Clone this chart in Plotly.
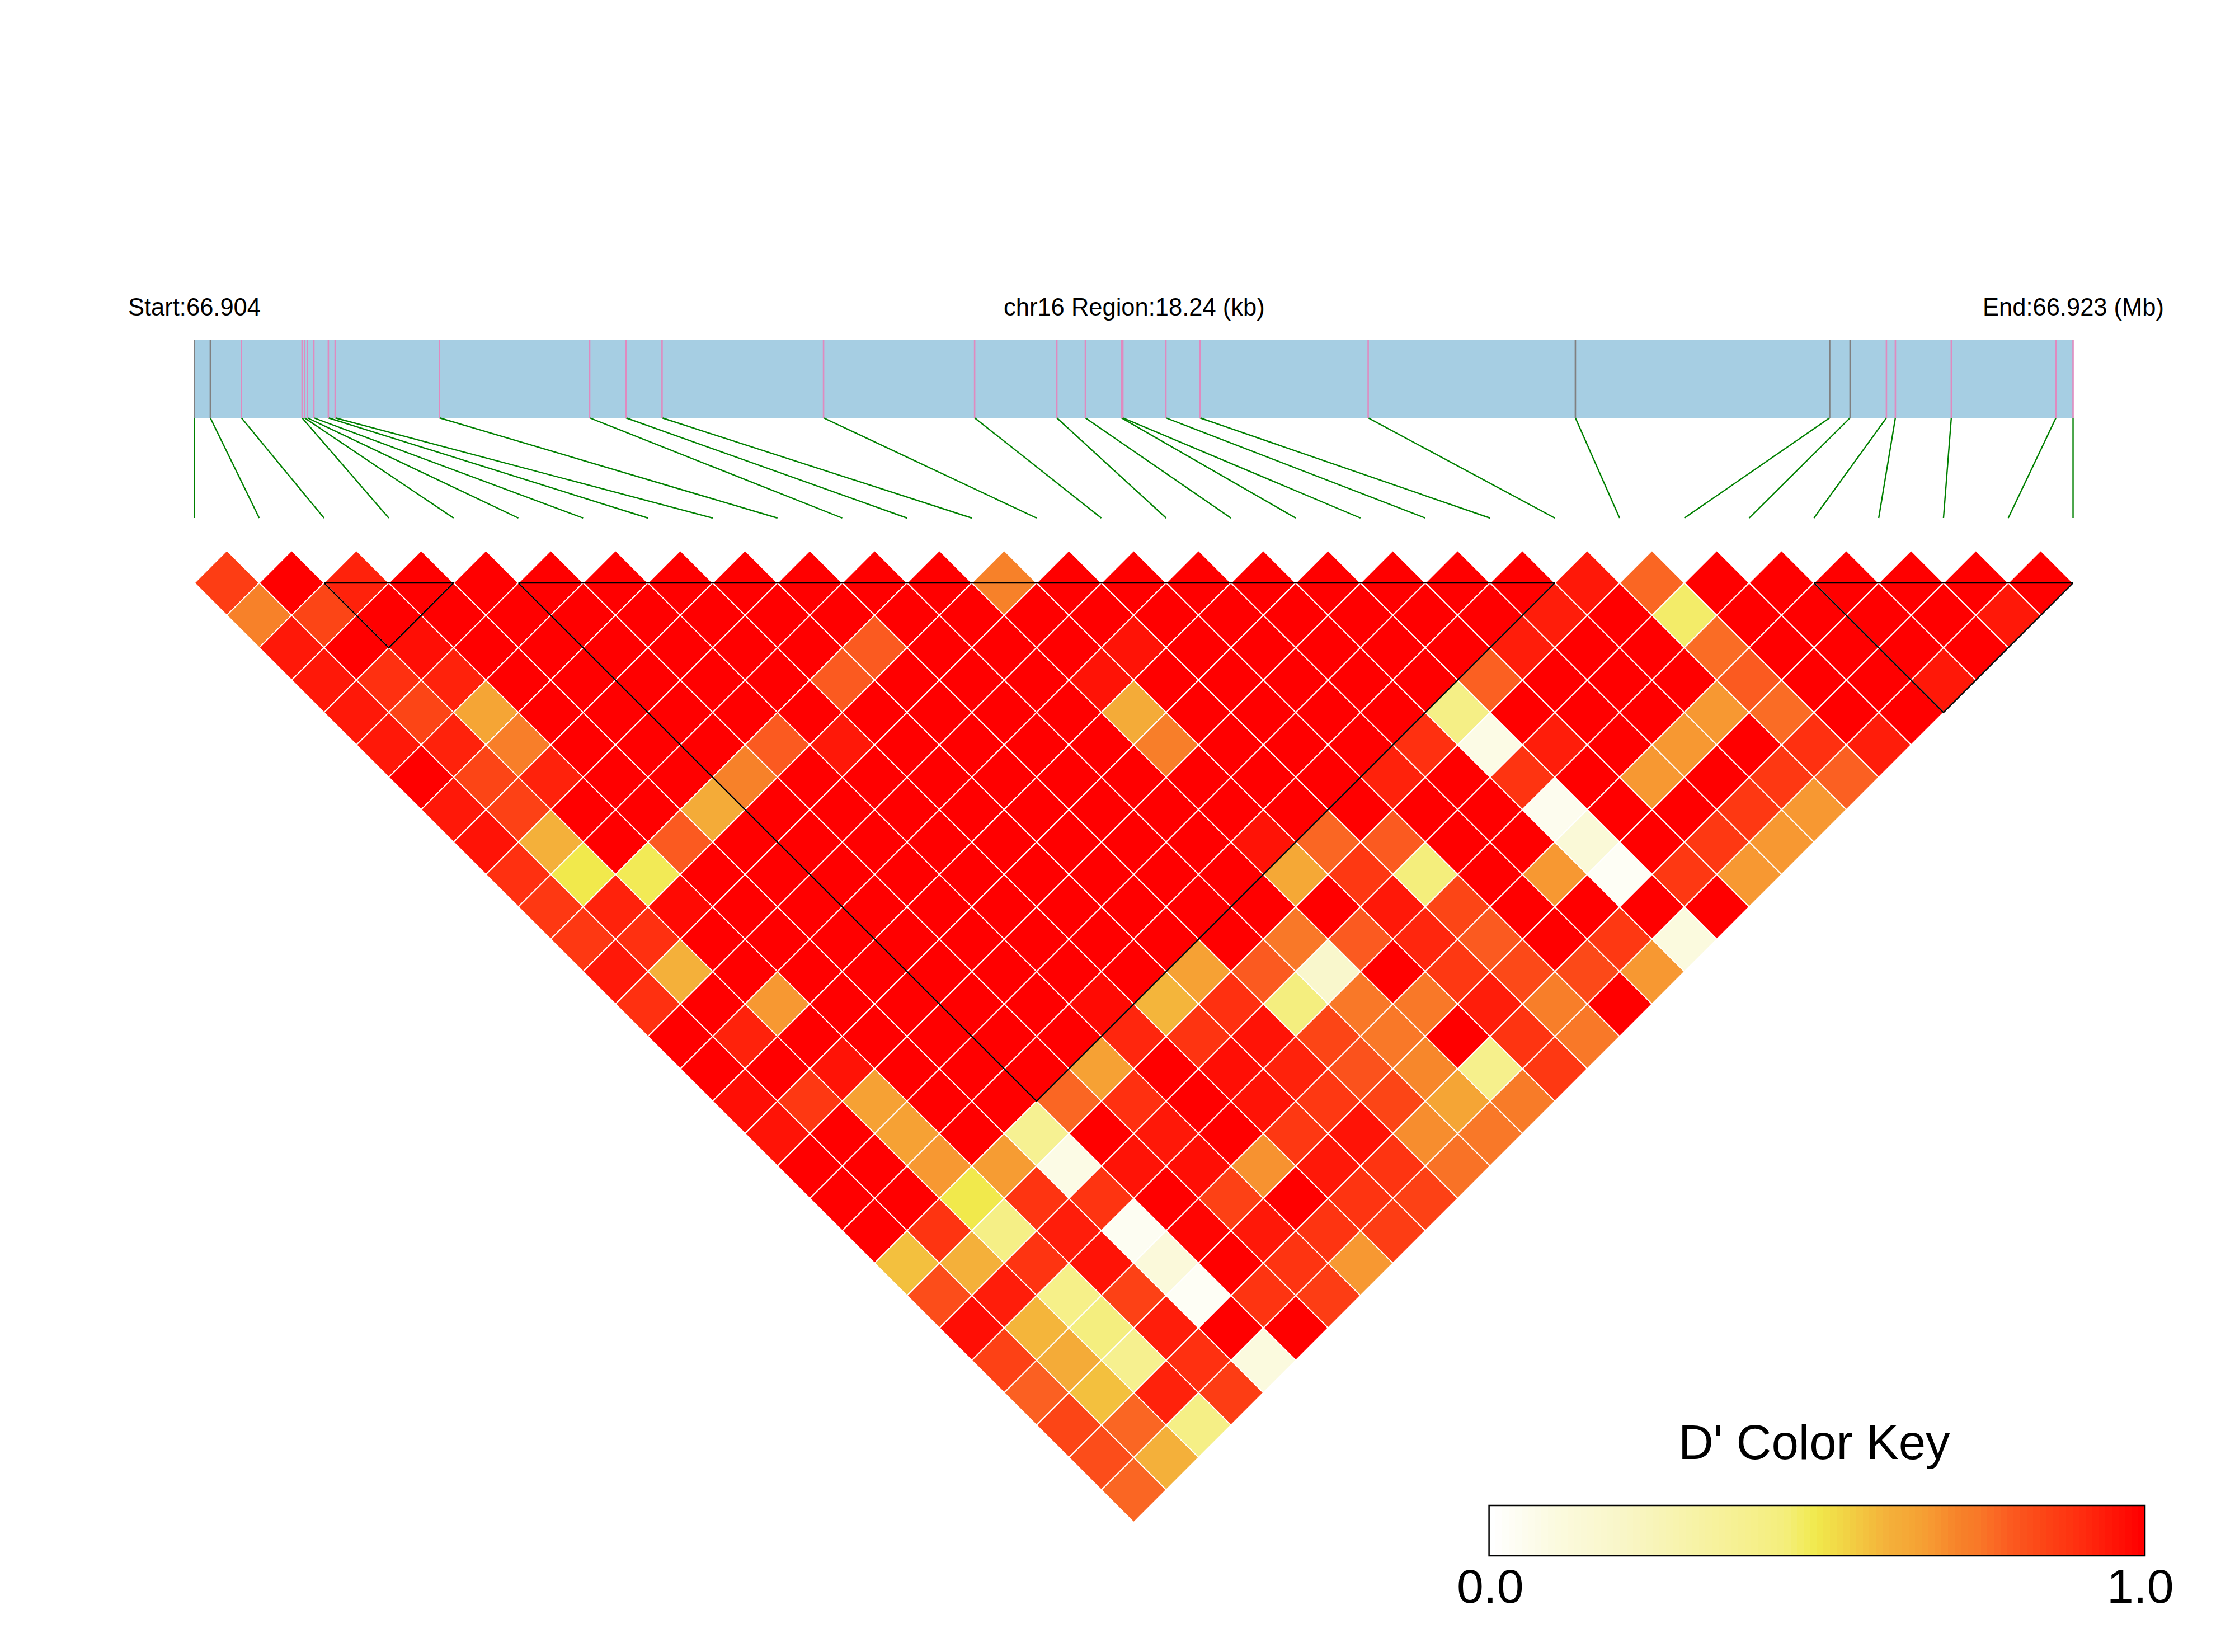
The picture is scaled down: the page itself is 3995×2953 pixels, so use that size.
import plotly.graph_objs as go
from plotly.colors import sample_colorscale

# SNP positions along the region, kb from the start
snp_pos_kb = [0, 0.154, 0.456, 1.045, 1.069, 1.097, 1.159, 1.300, 1.366, 2.379,
              3.837, 4.190, 4.540, 6.108, 7.575, 8.373, 8.650, 9.000, 9.014, 9.432,
              9.763, 11.396, 13.408, 15.877, 16.075, 16.428, 16.515, 17.058, 18.074, 18.24]
grey_snps = [0, 1, 22, 23, 24]
region_kb = 18.24

# D' by distance between SNPs: row_k[i] is the pair (i, i+k)
row_01 = [.87,1,.93,1,1,1,1,1,1,1,1,1,.72,1,1,1,1,1,1,1,1,.95,.78,1,1,1,1,1,1]
row_02 = [.72,.85,1,1,1,1,1,1,1,1,1,1,1,1,1,1,1,1,1,1,.94,1,.47,1,1,1,1,.95]
row_03 = [.95,1,.97,1,1,1,1,1,1,.8,1,1,1,.96,1,1,1,1,1,.94,1,1,.77,1,1,1,1]
row_04 = [.95,.9,.93,1,1,1,1,1,.8,1,1,1,.96,1,1,1,1,1,.79,1,1,1,.8,1,1,.95]
row_05 = [.95,.85,.65,1,1,1,1,1,1,1,1,1,.63,1,1,1,1,.42,1,1,1,.68,.77,1,1]
row_06 = [.95,.93,.73,1,1,1,.8,.95,1,1,1,1,.73,1,1,1,.9,.08,.94,1,.68,1,.9,.94]
row_07 = [1,.85,.93,1,1,.72,1,1,1,1,1,1,1,1,1,.93,1,.89,1,.68,1,.88,.79]
row_08 = [.95,.86,1,1,.63,1,1,1,1,1,1,1,1,1,1,1,1,.05,1,1,.88,.68]
row_09 = [.96,.61,1,.8,1,1,1,1,1,1,1,1,.96,.78,.8,1,1,.13,1,.88,.68]
row_10 = [.9,.5,.49,1,1,1,1,1,1,1,1,1,.64,.88,.45,1,.68,.03,.88,.68]
row_11 = [.88,.93,.98,1,1,1,1,1,1,1,1,1,1,.95,.85,1,1,1,1]
row_12 = [.88,.9,1,1,1,1,1,1,1,1,1,.75,.8,.92,.8,1,.88,.1]
row_13 = [.95,.61,1,1,1,1,1,1,1,.66,.8,.18,1,.88,.84,.84,.68]
row_14 = [.9,1,.68,1,1,1,1,.98,.6,.9,.44,.75,.75,.94,.73,1]
row_15 = [1,.93,1,1,1,1,1,.92,.89,.96,.85,.75,1,.89,.75]
row_16 = [1,1,.96,1,1,1,.66,1,.97,.93,.82,.71,.4,.88]
row_17 = [.97,.88,.66,1,1,.78,.9,1,.96,.88,.85,.65,.74]
row_18 = [.96,1,.66,1,.38,1,.95,1,.88,.96,.7,.75]
row_19 = [1,1,.68,.67,.08,.96,.97,.69,.95,.89,.76]
row_20 = [1,1,.5,.89,.89,1,.86,1,.89,.86]
row_21 = [1,.89,.42,.94,.04,.99,.95,.89,.87]
row_22 = [.58,.61,.89,.96,.12,1,.89,.68]
row_23 = [.83,.94,.41,.86,.03,.89,.87]
row_24 = [.97,.6,.44,.94,1,1]
row_25 = [.86,.63,.39,.9,.1]
row_26 = [.79,.58,.93,.87]
row_27 = [.85,.78,.42]
row_28 = [.83,.61]
row_29 = [.78]
d_rows = [row_01, row_02, row_03, row_04, row_05, row_06, row_07, row_08, row_09, row_10,
          row_11, row_12, row_13, row_14, row_15, row_16, row_17, row_18, row_19, row_20,
          row_21, row_22, row_23, row_24, row_25, row_26, row_27, row_28, row_29]

# LD blocks, first and last SNP
ld_blocks = [(2, 4), (5, 21), (25, 29)]

ld_colors = [[0, '#FFFFFF'], [.1, '#FBFADE'], [.2, '#F9F6C8'], [.4, '#F6F08C'], [.45, '#F4EE7C'],
             [.5, '#F1E94C'], [.58, '#F3C03E'], [.61, '#F4B03A'], [.65, '#F5A535'], [.68, '#F79832'],
             [.72, '#F78129'], [.75, '#F97828'], [.8, '#FB5A20'], [.85, '#FC4516'], [.9, '#FF3010'],
             [.95, '#FF1808'], [1, '#FF0000']]

WIDTH = 3995
HEIGHT = 2953
X0_PX = 347.6      # first SNP
STEP_PX = 115.79   # one SNP along the x axis
Y0_PX = 1042       # centre of the first row of diamonds
ROW_PX = 57.9


def px_x(p):
    return (p - X0_PX) / STEP_PX


def px_y(p):
    return 1 + (p - Y0_PX) / ROW_PX


fig = go.Figure()

# diamonds
for k, row in enumerate(d_rows, start=1):
    for i, value in enumerate(row):
        cx = i + k / 2
        color = sample_colorscale(ld_colors, [value])[0]
        fig.add_trace(go.Scatter(x=[cx - .5, cx, cx + .5, cx, cx - .5],
                                 y=[k, k - 1, k, k + 1, k],
                                 mode='lines', fill='toself', fillcolor=color,
                                 line=dict(color='white', width=2),
                                 hoverinfo='text', text='D\' %.2f' % value, showlegend=False))

# block outlines
for a, b in ld_blocks:
    fig.add_trace(go.Scatter(x=[a, b, (a + b) / 2, a], y=[1, 1, b - a + 1, 1], mode='lines',
                             line=dict(color='black', width=2.4), hoverinfo='skip', showlegend=False))

# region bar with SNP ticks
band_top = px_y(607)
band_bottom = px_y(747)
line_end = px_y(926)
snp_x = [p / region_kb * (len(snp_pos_kb) - 1) for p in snp_pos_kb]
shapes = [dict(type='rect', x0=0, x1=len(snp_pos_kb) - 1, y0=band_top, y1=band_bottom,
               fillcolor='#A6CEE3', line=dict(width=0), layer='below')]
for i, x in enumerate(snp_x):
    tick_color = '#808080' if i in grey_snps else '#E08ABF'
    shapes.append(dict(type='line', x0=x, x1=x, y0=band_top, y1=band_bottom,
                       line=dict(color=tick_color, width=2.6)))
    fig.add_trace(go.Scatter(x=[x, i], y=[band_bottom, line_end], mode='lines',
                             line=dict(color='#008000', width=2.4), hoverinfo='skip', showlegend=False))

# colour key
key_steps = [n / 99 for n in range(100)]
key_left, key_right = px_x(2661.6), px_x(3834)
key_top, key_bottom = px_y(2691), px_y(2781)
key_edges = [key_left + (key_right - key_left) * n / 100 for n in range(101)]
fig.add_trace(go.Heatmap(x=key_edges, y=[key_top, key_bottom], z=[key_steps], zmin=0, zmax=1,
                         colorscale=ld_colors, showscale=False, hoverinfo='skip'))
shapes.append(dict(type='rect', x0=key_left, x1=key_right, y0=key_top, y1=key_bottom,
                   line=dict(color='black', width=2.5)))


def label(text, x_px, y_px, size, anchor):
    return dict(text=text, x=px_x(x_px), y=px_y(y_px), xref='x', yref='y', showarrow=False,
                xanchor=anchor, yanchor='middle', font=dict(family='Liberation Sans', size=size, color='black'))


annotations = [label('Start:66.904', 227, 549, 43.5, 'left'),
               label('chr16 Region:18.24 (kb)', 2027, 549, 43.5, 'center'),
               label('End:66.923 (Mb)', 3542, 549, 43.5, 'left'),
               label("D' Color Key", 3243, 2577, 87, 'center'),
               label('0.0', 2664, 2835, 86, 'center'),
               label('1.0', 3826, 2835, 86, 'center')]

fig.update_layout(width=WIDTH, height=HEIGHT, margin=dict(l=0, r=0, t=0, b=0, pad=0),
                  paper_bgcolor='white', plot_bgcolor='white', showlegend=False,
                  shapes=shapes, annotations=annotations,
                  xaxis=dict(visible=False, range=[px_x(0), px_x(WIDTH)], fixedrange=True),
                  yaxis=dict(visible=False, range=[px_y(HEIGHT), px_y(0)], fixedrange=True))

fig.write_html("out.html", config=dict(displayModeBar=False),
               post_script="document.body.style.margin='0';document.body.style.overflow='hidden';")
